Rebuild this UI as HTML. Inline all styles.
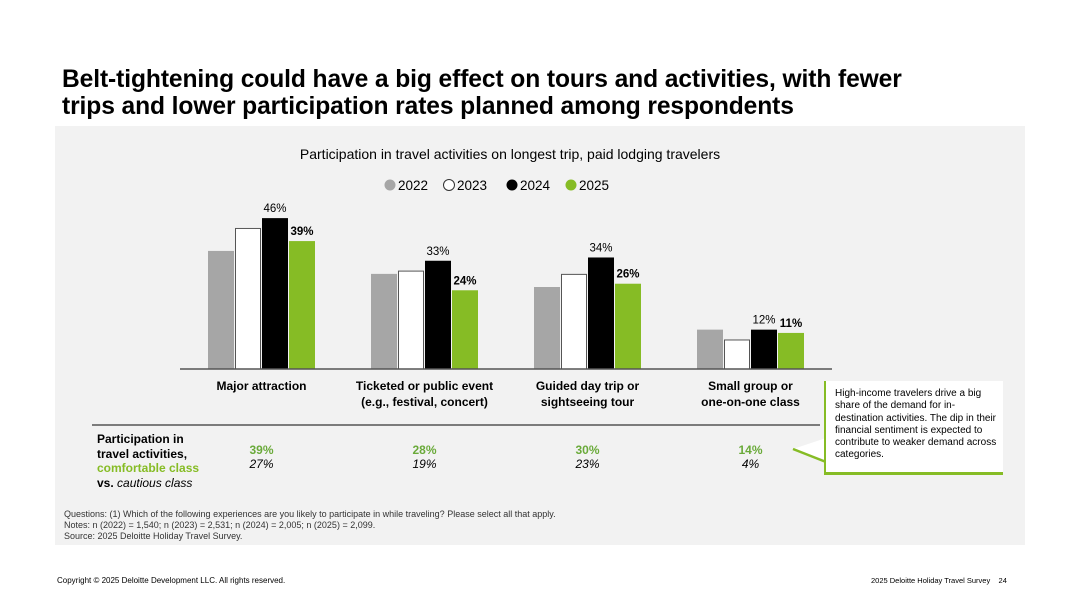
<!DOCTYPE html>
<html><head><meta charset="utf-8"><style>
body{margin:0;width:1080px;height:608px;background:#fff;font-family:"Liberation Sans","DejaVu Sans",sans-serif;position:relative;overflow:hidden}
.abs{position:absolute}
</style></head><body>
<div class="abs" style="left:62px;top:66px;font-size:24.6px;font-weight:bold;line-height:27px;color:#000;letter-spacing:-0.1px">Belt-tightening could have a big effect on tours and activities, with fewer<br>trips and lower participation rates planned among respondents</div>
<div class="abs" style="left:55px;top:126px;width:970px;height:419px;background:#f2f2f2"></div>
<svg class="abs" style="left:0;top:0" width="1080" height="608" id="chart"></svg>
<div class="abs" style="left:97px;top:432px;font-size:12px;font-weight:bold;line-height:14.5px;color:#000">Participation in<br>travel activities,<br><span style="color:#86bc25">comfortable class</span><br>vs. <i style="font-weight:normal">cautious class</i></div>
<div class="abs" style="left:824px;top:381px;width:162px;height:80px;background:#fff;border-left:2px solid #86bc25;border-bottom:3px solid #86bc25;padding:7px 6px 4px 9px;font-size:10px;line-height:12.3px;color:#000">High-income travelers drive a big share of the demand for in-destination activities. The dip in their financial sentiment is expected to contribute to weaker demand across categories.</div>
<div class="abs" style="left:64px;top:509px;font-size:9px;line-height:11px;color:#333">Questions: (1) Which of the following experiences are you likely to participate in while traveling? Please select all that apply.<br>Notes: n (2022) = 1,540; n (2023) = 2,531; n (2024) = 2,005; n (2025) = 2,099.<br>Source: 2025 Deloitte Holiday Travel Survey.</div>
<div class="abs" style="left:57px;top:576px;font-size:8px;color:#000">Copyright © 2025 Deloitte Development LLC. All rights reserved.</div>
<div class="abs" style="left:871px;top:576px;font-size:7.5px;color:#000">2025 Deloitte Holiday Travel Survey&nbsp;&nbsp;&nbsp;&nbsp;24</div>
<script>
const categories=[["Major attraction"],["Ticketed or public event","(e.g., festival, concert)"],["Guided day trip or","sightseeing tour"],["Small group or","one-on-one class"]];
const years=["2022","2023","2024","2025"];
const v2022=[36,29,25,12];
const v2023=[43,30,29,9];
const v2024=[46,33,34,12];
const v2025=[39,24,26,11];
const comfortable=["39%","28%","30%","14%"];
const cautious=["27%","19%","23%","4%"];
const series=[v2022,v2023,v2024,v2025];
const fills=["#a6a6a6","#ffffff","#000000","#86bc25"];
const svg=document.getElementById('chart');
const NS="http://www.w3.org/2000/svg";
const base=369,scale=3.28,g0=208,gStep=163,bStep=27,bw=26;
const y=v=>base-v*scale;
const x=(g,s)=>g0+g*gStep+s*bStep;
function mk(t,a,txt){const e=document.createElementNS(NS,t);for(const k in a)e.setAttribute(k,a[k]);if(txt!=null)e.textContent=txt;svg.appendChild(e);return e;}
let t=mk('text',{x:510,y:159,'font-size':14,'text-anchor':'middle',fill:'#000'},'Participation in travel activities on longest trip, paid lodging travelers');


const lx=[390,449,512,571];
years.forEach((yr,i)=>{
 let c=mk('circle',{cx:lx[i],cy:185,r:5.5,fill:fills[i],stroke:i==1?'#333':'none','stroke-width':1});
 
 
 let l=mk('text',{x:lx[i]+8,y:190,'font-size':13.5,fill:'#000'},yr);
 
 
});
series.forEach((arr,s)=>{
 arr.forEach((v,g)=>{
  let r=mk('rect',{x:x(g,s)+(s==1?0.5:0),y:y(v)+(s==1?0.5:0),width:bw-(s==1?1:0),height:v*scale-(s==1?0.5:0),fill:fills[s],stroke:s==1?'#555':'none','stroke-width':1});
  
  
  if(s>=2){
   let lb=mk('text',{x:x(g,s)+bw/2,y:y(v)-6,'font-size':11.5,'text-anchor':'middle',fill:'#000','font-weight':s==3?'bold':'normal'},v+'%');
   
   
  }
 });
});
let ax=mk('line',{x1:180,y1:base,x2:832,y2:base,stroke:'#555','stroke-width':1.5});


categories.forEach((c,g)=>{
 const cx=g0+g*gStep+2*bStep-0.5;
 c.forEach((ln,i)=>{
  let tx=mk('text',{x:cx,y:390+i*16,'font-size':12,'font-weight':'bold','text-anchor':'middle',fill:'#000'},ln);
  
  
 });
 let a=mk('text',{x:cx,y:454,'font-size':12,'font-weight':'bold','text-anchor':'middle',fill:'#6aaa3a'},comfortable[g]);
 
 
 let b=mk('text',{x:cx,y:468,'font-size':12,'font-style':'italic','text-anchor':'middle',fill:'#000'},cautious[g]);
 
 
});
let dv=mk('line',{x1:92,y1:425,x2:820,y2:425,stroke:'#555','stroke-width':1.5});


let tail=mk('polygon',{points:'826,438 793,449 826,460',fill:'#fff'});


let tl=mk('polyline',{points:'826,462 793,449',fill:'none',stroke:'#86bc25','stroke-width':2.5});


</script>
</body></html>
